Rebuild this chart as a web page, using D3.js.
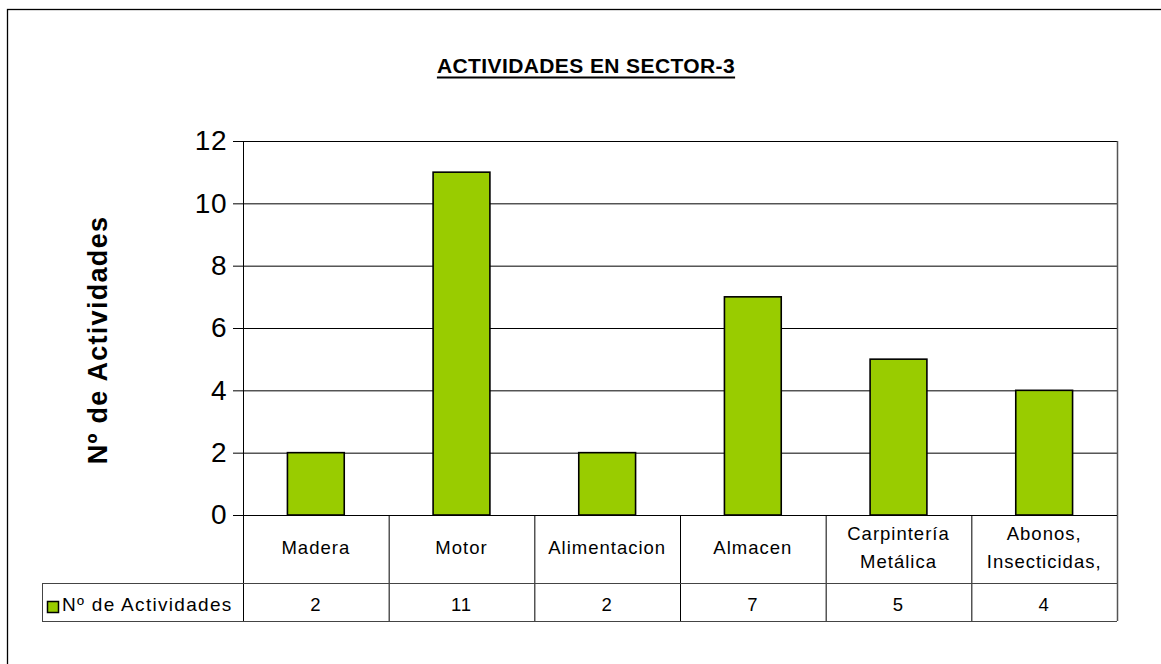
<!DOCTYPE html>
<html><head><meta charset="utf-8">
<script src="https://cdn.jsdelivr.net/npm/d3@7/dist/d3.min.js"></script>
<style>
html,body{margin:0;padding:0;background:#fff;}
svg{display:block;font-family:"Liberation Sans",Arial,sans-serif;}
</style></head>
<body>
<svg id="c" width="1161" height="664"></svg>
<script>
const categories = [["Madera"], ["Motor"], ["Alimentacion"], ["Almacen"], ["Carpintería","Metálica"], ["Abonos,","Insecticidas,"]];
const values = [2, 11, 2, 7, 5, 4];
const yTicks = [0, 2, 4, 6, 8, 10, 12];
const seriesName = "Nº de Actividades";
const title = "ACTIVIDADES EN SECTOR-3";
const yTitle = "Nº de Actividades";

const svg = d3.select("#c");
const L = 243, R = 1117, T = 141, B = 515;
const rowCat = 583, rowVal = 621, legL = 42;

// outer border
svg.append("rect").attr("x", 7.5).attr("y", 9.5).attr("width", 1200).attr("height", 700)
  .attr("fill", "none").attr("stroke", "#000").attr("stroke-width", 1.3);

const x = d3.scaleBand().domain(d3.range(values.length)).range([L, R]).padding(0);
const y = d3.scaleLinear().domain([0, 12]).range([B, T]);

// gridlines + ticks
const axis = d3.axisLeft(y).tickValues(yTicks).tickSize(-(R - L)).tickPadding(16).tickFormat(d3.format("d"));
const ga = svg.append("g").attr("transform", `translate(${L},0)`).call(axis);
ga.select(".domain").remove();
ga.selectAll(".tick line").attr("x1", -10).attr("x2", R - L).attr("stroke", "#000").attr("stroke-width", 1);
ga.selectAll(".tick text").attr("font-size", 28).attr("fill", "#000").attr("letter-spacing", 0.5)
  .attr("font-family", "'Liberation Sans',Arial,sans-serif");

// plot area border (left/right)
svg.append("line").attr("x1", L + 0.5).attr("x2", L + 0.5).attr("y1", T).attr("y2", rowVal).attr("stroke", "#000");
svg.append("line").attr("x1", R + 0.5).attr("x2", R + 0.5).attr("y1", T).attr("y2", rowVal).attr("stroke", "#555").attr("stroke-width", 1.5);

// bars
const bw = x.bandwidth() * 0.39;
svg.append("g").selectAll("rect").data(values).join("rect")
  .attr("x", (d, i) => x(i) + x.bandwidth() / 2 - bw / 2)
  .attr("y", d => y(d))
  .attr("width", bw)
  .attr("height", d => y(0) - y(d))
  .attr("fill", "#99CC00").attr("stroke", "#000").attr("stroke-width", 1.6);

// zero line on top
svg.append("line").attr("x1", L - 10).attr("x2", R).attr("y1", B + 0.5).attr("y2", B + 0.5).attr("stroke", "#000");

// data table
const tg = svg.append("g");
d3.range(1, values.length).forEach(i => {
  tg.append("line").attr("x1", x(i) + 0.5).attr("x2", x(i) + 0.5).attr("y1", B).attr("y2", rowVal).attr("stroke", "#000");
});
tg.append("line").attr("x1", legL).attr("x2", R).attr("y1", rowCat + 0.5).attr("y2", rowCat + 0.5).attr("stroke", "#444");
tg.append("line").attr("x1", legL).attr("x2", R).attr("y1", rowVal + 0.5).attr("y2", rowVal + 0.5).attr("stroke", "#444");
tg.append("line").attr("x1", legL + 0.5).attr("x2", legL + 0.5).attr("y1", rowCat).attr("y2", rowVal).attr("stroke", "#444");

// category labels
categories.forEach((lines, i) => {
  const cx = x(i) + x.bandwidth() / 2;
  const t = tg.append("text").attr("text-anchor", "middle").attr("font-size", 18.5)
    .attr("letter-spacing", 1).attr("fill", "#000");
  if (lines.length === 1) {
    t.append("tspan").attr("x", cx).attr("y", 554).text(lines[0]);
  } else {
    t.append("tspan").attr("x", cx).attr("y", 540).text(lines[0]);
    t.append("tspan").attr("x", cx).attr("y", 568).text(lines[1]);
  }
});
// value labels
values.forEach((v, i) => {
  tg.append("text").attr("x", x(i) + x.bandwidth() / 2).attr("y", 611)
    .attr("text-anchor", "middle").attr("font-size", 18.5).attr("letter-spacing", 1).attr("fill", "#000").text(v);
});
// legend key
tg.append("rect").attr("x", 47.5).attr("y", 601.5).attr("width", 11).attr("height", 11)
  .attr("fill", "#99CC00").attr("stroke", "#000").attr("stroke-width", 1.5);
tg.append("text").attr("x", 62).attr("y", 611).attr("font-size", 19).attr("letter-spacing", 1.3)
  .attr("fill", "#000").text(seriesName);

// title
const tt = svg.append("text").attr("x", 586).attr("y", 73).attr("text-anchor", "middle")
  .attr("font-size", 21).attr("letter-spacing", 0.4).attr("font-weight", "bold").attr("fill", "#000").text(title);
const bb = tt.node().getBBox();
svg.append("line").attr("x1", bb.x).attr("x2", bb.x + bb.width).attr("y1", 77.5).attr("y2", 77.5)
  .attr("stroke", "#000").attr("stroke-width", 2);

// y-axis title
svg.append("text").attr("transform", "translate(107,340) rotate(-90)").attr("text-anchor", "middle")
  .attr("font-size", 27).attr("letter-spacing", 1.3).attr("font-weight", "bold").attr("fill", "#000").text(yTitle);
</script>
</body></html>
